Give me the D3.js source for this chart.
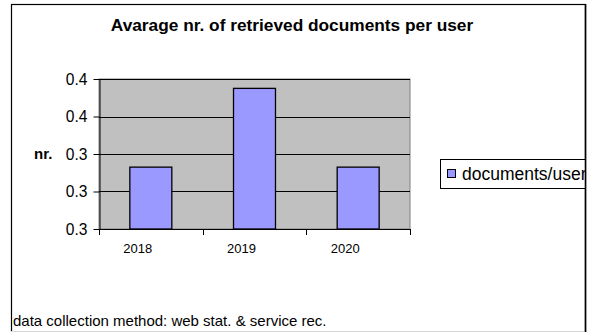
<!DOCTYPE html>
<html>
<head>
<meta charset="utf-8">
<script src="https://cdn.jsdelivr.net/npm/d3@7"></script>
<style>
  html, body { margin: 0; padding: 0; background: #fff; }
  svg { display: block; font-family: "Liberation Sans", Arial, sans-serif; }
</style>
</head>
<body>
<svg id="chart" width="589" height="332"></svg>
<script>
// Chart data
const years = ["2018", "2019", "2020"];
const docsPerUser = [0.333, 0.375, 0.333];
const yTicks = [0.30, 0.32, 0.34, 0.36, 0.38];
const seriesName = "documents/user";
const chartTitle = "Avarage nr. of retrieved documents per user";
const yAxisTitle = "nr.";
const footnote = "data collection method: web stat. & service rec.";

const svg = d3.select("#chart");

// Plot region
const plot = { left: 99, right: 410, top: 79, bottom: 229 };

const x = d3.scaleBand()
  .domain(years)
  .range([plot.left, plot.right])
  .paddingInner(0.595)
  .paddingOuter(0.2975);

const xCat = d3.scaleBand()
  .domain(years)
  .range([plot.left, plot.right])
  .padding(0);

const y = d3.scaleLinear()
  .domain([yTicks[0], yTicks[yTicks.length - 1]])
  .range([plot.bottom, plot.top]);

const fmt = d3.format(".1f");

// Outer frame
svg.append("rect")
  .attr("x", 11.5).attr("y", 4.5)
  .attr("width", 574).attr("height", 330)
  .attr("fill", "#fff")
  .attr("stroke", "#000").attr("stroke-width", 1.2);
svg.append("line")
  .attr("x1", 11).attr("x2", 587).attr("y1", 331.5).attr("y2", 331.5)
  .attr("stroke", "#d8d8d8");

// Title
svg.append("text")
  .attr("x", 292).attr("y", 30.5)
  .attr("text-anchor", "middle")
  .attr("font-size", 17.3).attr("font-weight", "bold")
  .text(chartTitle);

// Plot background
svg.append("rect")
  .attr("x", plot.left).attr("y", plot.top)
  .attr("width", plot.right - plot.left).attr("height", plot.bottom - plot.top)
  .attr("fill", "#c0c0c0")
  .attr("stroke", "#808080").attr("stroke-width", 1);

// Gridlines
svg.append("g")
  .selectAll("line")
  .data(yTicks.slice(1))
  .join("line")
  .attr("x1", plot.left).attr("x2", plot.right)
  .attr("y1", d => Math.round(y(d)) + 0.5).attr("y2", d => Math.round(y(d)) + 0.5)
  .attr("stroke", "#000").attr("stroke-width", 1);

// Bars
svg.append("g")
  .selectAll("rect")
  .data(years.map((yr, i) => ({ yr, v: docsPerUser[i] })))
  .join("rect")
  .attr("x", d => x(d.yr))
  .attr("width", x.bandwidth())
  .attr("y", d => y(d.v))
  .attr("height", d => y(yTicks[0]) - y(d.v))
  .attr("fill", "#9999ff")
  .attr("stroke", "#000").attr("stroke-width", 1.3);

// Y axis
const yAxis = d3.axisLeft(y)
  .tickValues(yTicks)
  .tickFormat(fmt)
  .tickSizeInner(6)
  .tickSizeOuter(0)
  .tickPadding(6);
const gy = svg.append("g")
  .attr("transform", `translate(${plot.left + 0.5},0)`)
  .call(yAxis);
gy.select(".domain").attr("stroke", "#000");
gy.selectAll(".tick line").attr("stroke", "#000");
gy.selectAll(".tick text")
  .attr("font-family", "Liberation Sans, Arial, sans-serif")
  .attr("font-size", 15.6)
  .attr("fill", "#000");

// X axis line with category boundary ticks
const gx = svg.append("g");
gx.append("line")
  .attr("x1", plot.left).attr("x2", plot.right + 0.5)
  .attr("y1", plot.bottom + 0.5).attr("y2", plot.bottom + 0.5)
  .attr("stroke", "#000");
const boundaries = years.map(yr => xCat(yr)).concat([xCat(years[years.length - 1]) + xCat.bandwidth()]);
gx.selectAll("line.tk")
  .data(boundaries)
  .join("line")
  .attr("class", "tk")
  .attr("x1", d => Math.round(d) + 0.5).attr("x2", d => Math.round(d) + 0.5)
  .attr("y1", plot.bottom).attr("y2", plot.bottom + 6)
  .attr("stroke", "#000");
gx.selectAll("text")
  .data(years)
  .join("text")
  .attr("x", d => xCat(d) + xCat.bandwidth() / 2 - 13)
  .attr("y", 253)
  .attr("text-anchor", "middle")
  .attr("font-size", 13)
  .text(d => d);

// Y axis title
svg.append("text")
  .attr("x", 34).attr("y", y(0.34) + 5)
  .attr("font-size", 15).attr("font-weight", "bold")
  .text(yAxisTitle);

// Legend
const legend = svg.append("g");
svg.append("clipPath").attr("id", "frameClip")
  .append("rect").attr("x", 0).attr("y", 0).attr("width", 585).attr("height", 332);
const lg = legend.attr("clip-path", "url(#frameClip)");
lg.append("rect")
  .attr("x", 440.5).attr("y", 159.5)
  .attr("width", 160).attr("height", 29)
  .attr("fill", "#fff").attr("stroke", "#000");
lg.append("rect")
  .attr("x", 447.5).attr("y", 169.5)
  .attr("width", 8).attr("height", 8)
  .attr("fill", "#9999ff").attr("stroke", "#000");
lg.append("text")
  .attr("x", 462).attr("y", 180)
  .attr("font-size", 17.5)
  .text(seriesName);
// Right edge of frame redrawn over the legend
svg.append("line")
  .attr("x1", 585.5).attr("x2", 585.5).attr("y1", 4).attr("y2", 332)
  .attr("stroke", "#000").attr("stroke-width", 1.6);

// Footnote
svg.append("text")
  .attr("x", 13).attr("y", 326)
  .attr("font-size", 15)
  .text(footnote);
</script>
</body>
</html>
